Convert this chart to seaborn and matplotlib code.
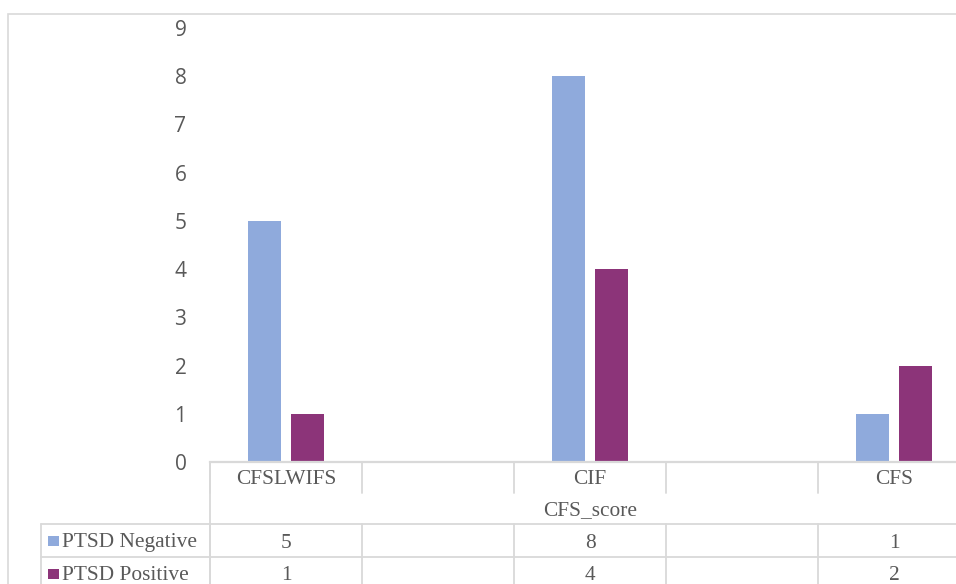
import matplotlib
matplotlib.use("Agg")
import matplotlib.pyplot as plt
from matplotlib.patches import Rectangle
from matplotlib.transforms import blended_transform_factory
import pandas as pd
import seaborn as sns

# Chart data
categories = ["CFSLWIFS", "", "CIF", "", "CFS"]
series_names = ["PTSD Negative", "PTSD Positive"]
ptsd_negative = [5, None, 8, None, 1]
ptsd_positive = [1, None, 4, None, 2]
axis_title = "CFS_score"
y_ticks = list(range(0, 10))

colors = {"PTSD Negative": "#8faadc", "PTSD Positive": "#8c3479"}
GRID = "#d9d9d9"
TEXT = "#595959"

W, H = 956, 584
sns.set_theme(style="white")
plt.rcParams["font.family"] = ["Open Sans", "DejaVu Sans"]

rows = []
for i, cat in enumerate(categories):
    for name, vals in zip(series_names, [ptsd_negative, ptsd_positive]):
        if vals[i] is not None:
            rows.append({"pos": i, "series": name, "value": vals[i]})
df = pd.DataFrame(rows)

fig = plt.figure(figsize=(W / 100, H / 100), dpi=100)
fig.patch.set_facecolor("white")


def fx(px):
    return px / W


def fy(py):
    return 1 - py / H


# plot area spans 5 category slots of equal width
ax = fig.add_axes([fx(210), fy(462), fx(970) - fx(210), fy(28) - fy(462)])
sns.barplot(data=df, x="pos", y="value", hue="series", order=list(range(len(categories))),
            hue_order=series_names, palette=colors, width=0.566, gap=0.21,
            legend=False, ax=ax, saturation=1, linewidth=0)

ax.set_xlim(-0.5, len(categories) - 0.5)
ax.set_ylim(0, 9)
ax.set_yticks(y_ticks)
ax.set_yticklabels([str(t) for t in y_ticks], fontsize=15, color=TEXT)
ax.tick_params(axis="y", length=0, pad=17)
ax.set_xticks([])
ax.set_xlabel("")
ax.set_ylabel("")
for s in ["top", "right", "left"]:
    ax.spines[s].set_visible(False)
ax.spines["bottom"].set_color(GRID)
ax.spines["bottom"].set_linewidth(1.6)

# outer chart border
fig.add_artist(Rectangle((fx(8), fy(700)), 2, fy(14) - fy(700), transform=fig.transFigure,
                         fill=False, edgecolor=GRID, linewidth=1.2))

# data table beneath the axis
tr = blended_transform_factory(ax.transData, fig.transFigure)
serif = ["Liberation Serif", "DejaVu Serif"]
tsize = 15.4
line_kw = dict(color=GRID, linewidth=1.3, clip_on=False)

n = len(categories)
bounds = [i - 0.5 for i in range(n + 1)]
for b in bounds:
    ax.plot([b, b], [fy(462), fy(493)], transform=tr, **line_kw)
    ax.plot([b, b], [fy(524), fy(600)], transform=tr, **line_kw)
ax.plot([-0.5, -0.5], [fy(462), fy(600)], transform=tr, **line_kw)
fig.add_artist(plt.Line2D([fx(41), fx(41)], [fy(524), fy(600)], color=GRID, linewidth=1.3))
for py in (524, 557, 590):
    fig.add_artist(plt.Line2D([fx(41), 1.05], [fy(py), fy(py)], color=GRID, linewidth=1.3))

for i, cat in enumerate(categories):
    ax.text(i, fy(480), cat, transform=tr, ha="center", va="center",
            fontsize=tsize, color=TEXT, family=serif)
ax.text((n - 1) / 2, fy(511), axis_title, transform=tr, ha="center", va="center",
        fontsize=tsize, color=TEXT, family=serif)

for r, (name, vals) in enumerate(zip(series_names, [ptsd_negative, ptsd_positive])):
    yc = 541 + 32.5 * r
    fig.add_artist(Rectangle((fx(48), fy(yc + 5)), fx(59) - fx(48), fy(yc - 5) - fy(yc + 5),
                             transform=fig.transFigure, facecolor=colors[name], edgecolor="none"))
    fig.text(fx(62), fy(yc + 2), name, ha="left", va="center", fontsize=tsize, color=TEXT, family=serif)
    for i, v in enumerate(vals):
        if v is not None:
            ax.text(i, fy(yc + 2), str(v), transform=tr, ha="center", va="center",
                    fontsize=tsize, color=TEXT, family=serif)

fig.savefig("out.png", dpi=100, facecolor="white")
